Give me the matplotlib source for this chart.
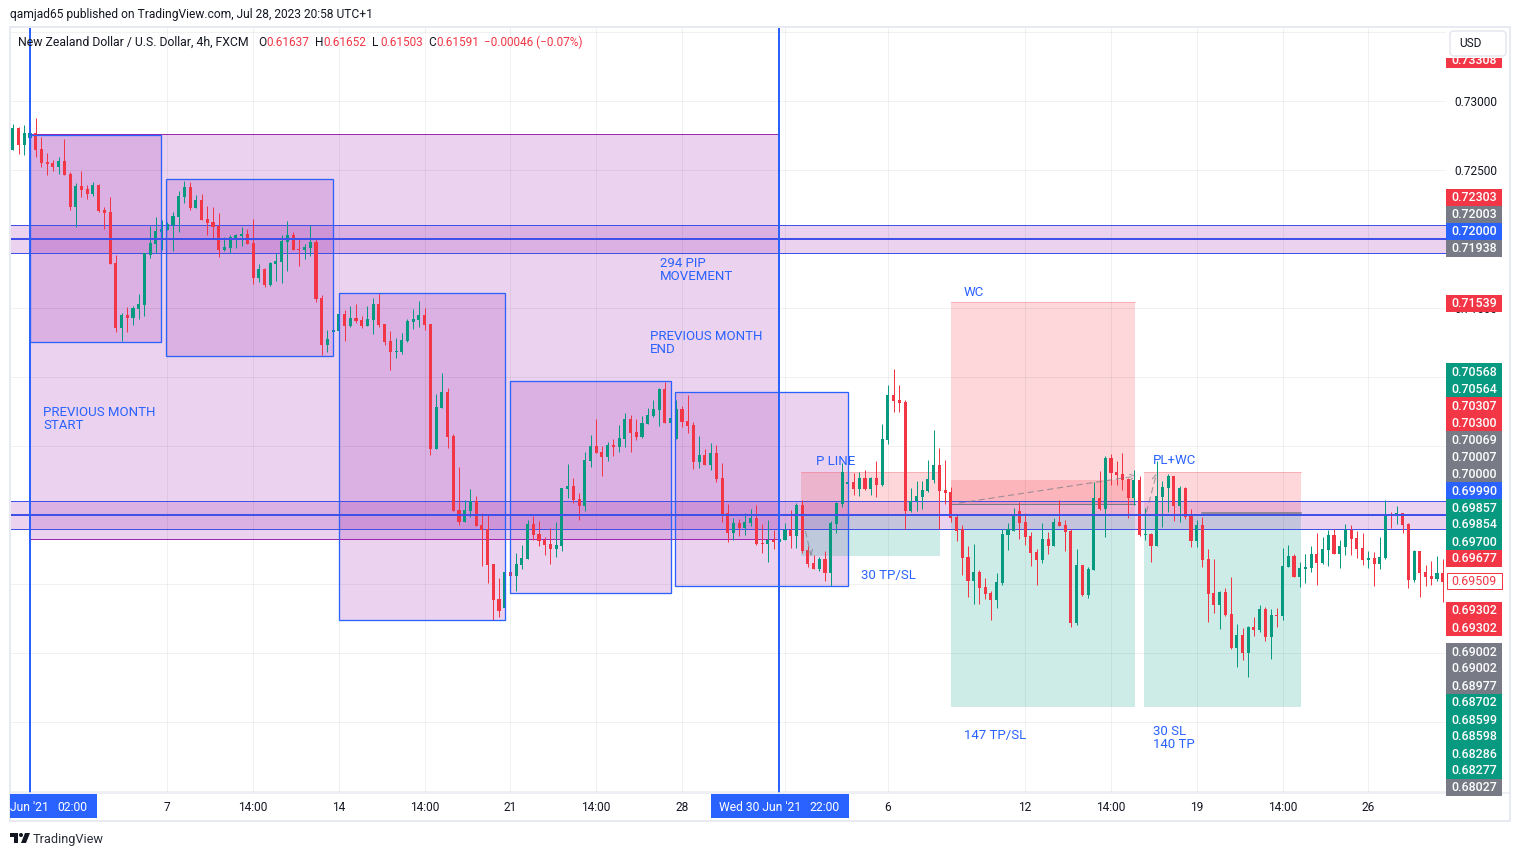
import numpy as np
import matplotlib
matplotlib.use("Agg")
import matplotlib.pyplot as plt
from matplotlib.patches import Rectangle, FancyBboxPatch, Polygon, Circle

# NZDUSD 4h candles, prices in 1/100000
opens = np.array([
    72645, 72804, 72681, 72729, 72768, 72652, 72558, 72551, 72522, 72565,
    72471, 72232, 72384, 72362, 72326, 72391, 72210, 72196, 71826, 71355,
    71449, 71428, 71493, 71522, 71884, 71964, 72051, 72065, 72101, 72159,
    72304, 72377, 72225, 72283, 72145, 72123, 72094, 71920, 71935, 72000,
    72022, 72036, 71971, 71717, 71783, 71667, 71819, 71833, 71978, 72029,
    71928, 71920, 71935, 71978, 71572, 71232, 71326, 71334, 71457, 71370,
    71428, 71413, 71370, 71413, 71529, 71384, 71261, 71181, 71181, 71261,
    71399, 71413, 71449, 71384, 70479, 70776, 70892, 70573, 70037, 69950,
    70029, 70102, 69928, 69899, 69645, 69392, 69327, 69587, 69558, 69638,
    69682, 69935, 69863, 69819, 69790, 69754, 69776, 70189, 70211, 70116,
    70066, 70392, 70500, 70457, 70421, 70508, 70493, 70551, 70696, 70602,
    70566, 70660, 70718, 70761, 70913, 70667, 70551, 70768, 70681, 70652,
    70384, 70435, 70362, 70449, 70268, 70015, 69870, 69942, 69906, 69942,
    69978, 69797, 69790, 69819, 69804, 69819, 69891, 69848, 70072, 69746,
    69652, 69609, 69681, 69580, 69935, 70080, 70225, 70239, 70188, 70268,
    70188, 70268, 70217, 70543, 70869, 70833, 70819, 70029, 70101, 70130,
    70174, 70254, 70362, 70181, 70167, 69986, 69899, 69696, 69522, 69588,
    69479, 69436, 69385, 69508, 69856, 69885, 70030, 69950, 69848, 69733,
    69675, 69827, 69776, 69950, 69928, 69885, 69218, 69638, 69421, 69602,
    70124, 70044, 70414, 70312, 70298, 70261, 70124, 70254, 69856, 69863,
    69776, 70131, 70196, 70283, 70066, 70196, 70008, 69812, 69928, 69681,
    69435, 69348, 69442, 69283, 69036, 69131, 69000, 69189, 69167, 69319,
    69116, 69275, 69268, 69623, 69703, 69551, 69609, 69616, 69717, 69652,
    69746, 69855, 69717, 69768, 69891, 69833, 69761, 69674, 69688, 69645,
    69688, 70007, 70000, 70014, 69935, 69529, 69739, 69587, 69558, 69536,
    69580,
]) / 1e5
highs = np.array([
    72833, 72811, 72826, 72874, 72877, 72739, 72623, 72572, 72594, 72724,
    72485, 72406, 72493, 72391, 72413, 72398, 72232, 72304, 71884, 71464,
    71507, 71515, 71601, 71896, 72094, 72159, 72138, 72126, 72196, 72348,
    72420, 72413, 72319, 72326, 72239, 72232, 72188, 72014, 72029, 72036,
    72087, 72072, 72145, 71819, 71790, 71833, 71899, 72029, 72130, 72051,
    72000, 71964, 72101, 72000, 71594, 71341, 71413, 71457, 71486, 71515,
    71529, 71442, 71515, 71573, 71606, 71384, 71334, 71283, 71319, 71420,
    71493, 71551, 71500, 71384, 70877, 71029, 70921, 70587, 70348, 70109,
    70189, 70138, 70015, 70000, 69645, 69544, 69587, 69740, 69725, 69783,
    69964, 69993, 69957, 69841, 69906, 69950, 70196, 70370, 70268, 70160,
    70457, 70580, 70696, 70500, 70529, 70551, 70652, 70739, 70725, 70696,
    70718, 70776, 70834, 70921, 70964, 70768, 70833, 70790, 70869, 70674,
    70572, 70478, 70522, 70507, 70377, 70080, 69978, 69971, 70015, 70043,
    70072, 69935, 69964, 69891, 69978, 69942, 70036, 70087, 70109, 69775,
    69710, 69696, 69739, 69957, 70094, 70377, 70420, 70304, 70312, 70326,
    70275, 70391, 70659, 70942, 71058, 70942, 70833, 70196, 70246, 70246,
    70398, 70616, 70485, 70398, 70203, 70008, 69928, 69776, 69791, 69602,
    69544, 69450, 69580, 69899, 69943, 70051, 70095, 70015, 69877, 69754,
    69943, 69877, 69979, 70109, 69964, 69899, 69754, 69638, 69624, 70240,
    70319, 70428, 70443, 70392, 70450, 70269, 70327, 70283, 70051, 69870,
    70392, 70247, 70298, 70283, 70211, 70203, 70044, 69964, 69985, 69754,
    69681, 69449, 69471, 69551, 69210, 69181, 69196, 69261, 69348, 69333,
    69319, 69326, 69761, 69783, 69717, 69659, 69717, 69775, 69870, 69841,
    69891, 69899, 69819, 69935, 69927, 69884, 69870, 69739, 69732, 69841,
    70109, 70022, 70065, 70014, 69942, 69746, 69739, 69638, 69667, 69703,
    69681,
]) / 1e5
lows = np.array([
    72645, 72616, 72609, 72722, 72594, 72522, 72464, 72493, 72471, 72464,
    72210, 72087, 72304, 72290, 72311, 72196, 72072, 71819, 71326, 71261,
    71326, 71377, 71420, 71442, 71862, 71899, 71920, 72065, 71913, 72051,
    72261, 72210, 72225, 72138, 72029, 72007, 71870, 71913, 71899, 71935,
    71949, 71964, 71674, 71688, 71652, 71659, 71696, 71681, 71768, 71920,
    71804, 71855, 71877, 71544, 71160, 71181, 71232, 71334, 71261, 71362,
    71391, 71355, 71370, 71312, 71362, 71232, 71051, 71138, 71167, 71254,
    71348, 71362, 71341, 70435, 70479, 70776, 70486, 70029, 69928, 69950,
    69986, 69921, 69631, 69508, 69240, 69261, 69327, 69443, 69450, 69609,
    69682, 69819, 69776, 69711, 69645, 69696, 69740, 70124, 70087, 69964,
    70029, 70348, 70450, 70283, 70392, 70428, 70457, 70493, 70457, 70544,
    70558, 70660, 70710, 70645, 70667, 70667, 70551, 70638, 70594, 70333,
    70341, 70362, 70326, 70239, 69949, 69804, 69819, 69848, 69855, 69920,
    69783, 69725, 69659, 69754, 69746, 69819, 69761, 69761, 69725, 69623,
    69609, 69594, 69522, 69486, 69870, 70058, 70145, 70145, 70138, 70181,
    70145, 70130, 70210, 70514, 70746, 70746, 69899, 70022, 70029, 70043,
    70167, 70232, 69899, 70080, 69949, 69812, 69566, 69407, 69356, 69356,
    69392, 69240, 69327, 69493, 69747, 69885, 69827, 69783, 69631, 69493,
    69653, 69718, 69776, 69921, 69740, 69189, 69204, 69414, 69399, 69602,
    70037, 69841, 70218, 70218, 70182, 69979, 70073, 69849, 69820, 69660,
    69776, 69914, 70022, 69957, 69950, 69972, 69769, 69769, 69623, 69225,
    69290, 69174, 69268, 69029, 68899, 68949, 68826, 69123, 69152, 69087,
    68957, 69189, 69239, 69623, 69551, 69478, 69507, 69587, 69493, 69645,
    69630, 69717, 69616, 69710, 69710, 69688, 69638, 69616, 69486, 69609,
    69681, 69906, 69935, 69870, 69471, 69515, 69406, 69486, 69493, 69522,
    69370,
]) / 1e5
closes = np.array([
    72804, 72681, 72768, 72768, 72645, 72551, 72543, 72522, 72565, 72464,
    72232, 72384, 72355, 72326, 72391, 72203, 72188, 71819, 71355, 71449,
    71428, 71500, 71529, 71896, 71971, 72058, 72072, 72109, 72167, 72311,
    72377, 72225, 72283, 72138, 72116, 72087, 71920, 71942, 72014, 72029,
    72036, 71964, 71717, 71783, 71667, 71826, 71841, 71985, 72029, 71920,
    71920, 71942, 71978, 71565, 71232, 71275, 71341, 71457, 71370, 71428,
    71406, 71370, 71420, 71529, 71377, 71254, 71181, 71189, 71268, 71406,
    71420, 71449, 71377, 70479, 70783, 70892, 70566, 70029, 69950, 70037,
    70102, 69921, 69892, 69638, 69385, 69305, 69587, 69558, 69645, 69689,
    69935, 69856, 69812, 69783, 69754, 69783, 70196, 70211, 70109, 70066,
    70399, 70500, 70450, 70421, 70508, 70493, 70558, 70696, 70595, 70566,
    70667, 70725, 70768, 70913, 70667, 70703, 70768, 70674, 70645, 70384,
    70435, 70362, 70449, 70261, 70007, 69870, 69942, 69906, 69949, 69978,
    69790, 69790, 69819, 69804, 69826, 69891, 69848, 70072, 69739, 69645,
    69609, 69681, 69580, 69942, 70087, 70312, 70239, 70188, 70268, 70188,
    70268, 70217, 70551, 70869, 70826, 70811, 70029, 70101, 70138, 70181,
    70261, 70362, 70174, 70159, 69978, 69885, 69689, 69522, 69588, 69472,
    69428, 69385, 69515, 69863, 69899, 70008, 69943, 69841, 69725, 69675,
    69827, 69776, 69950, 69921, 69877, 69218, 69638, 69421, 69609, 70124,
    70044, 70414, 70305, 70290, 70254, 70124, 70254, 69856, 69863, 69776,
    70138, 70203, 70283, 70066, 70196, 69986, 69812, 69928, 69674, 69428,
    69348, 69442, 69275, 69036, 69131, 69000, 69189, 69167, 69319, 69116,
    69275, 69268, 69630, 69703, 69551, 69616, 69623, 69717, 69652, 69754,
    69855, 69717, 69775, 69891, 69826, 69754, 69674, 69688, 69645, 69696,
    70007, 69993, 70014, 69927, 69529, 69739, 69580, 69551, 69536, 69580,
    69515,
]) / 1e5

# time axis
tick_bars = [27, 42, 57, 72, 87, 102, 117, 135, 153, 177, 192, 207, 222, 237]
tick_labels = ["7", "14:00", "14", "14:00", "21", "14:00", "28", "", "6", "12", "14:00", "19", "14:00", "26"]
price_ticks = [0.735, 0.73, 0.725, 0.72, 0.715, 0.71, 0.705, 0.70, 0.695, 0.69, 0.685, 0.68]
# the other ticks sit under the stacked price labels
shown_ticks = [0.73, 0.725, 0.715]

# drawings, in bar numbers and prices
month_box = (3, 133.9, 0.72761, 0.69826)
range_starts = [3, 26.85, 57, 86.85, 115.85]
range_ends = [25.95, 56, 86, 115, 146]
range_tops = [0.72754, 0.72435, 0.71609, 0.70971, 0.70891]
range_bottoms = [0.71254, 0.71152, 0.69239, 0.69435, 0.69486]
band_tops = [0.72101, 0.70101]
band_lines = [0.72000, 0.69999]
band_bottoms = [0.71899, 0.69898]
cursor_bars = [3, 133.9]
pos_starts = [137.85, 164, 197.85]
pos_ends = [162.15, 196.15, 225.15]
pos_tops = [0.70312, 0.71544, 0.70312]
pos_entries = [0.69999, 0.70007, 0.70007]
pos_bottoms = [0.69703, 0.68609, 0.68609]

# right hand price labels, top to bottom
scale_texts = ["0.73308", "0.72303", "0.72003", "0.72000", "0.71938", "0.71539", "0.70568", "0.70564",
               "0.70307", "0.70300", "0.70069", "0.70007", "0.70000", "0.69990", "0.69857", "0.69854",
               "0.69700", "0.69677", "0.69302", "0.69302", "0.69002", "0.69002", "0.68977", "0.68702",
               "0.68599", "0.68598", "0.68286", "0.68277", "0.68027"]
scale_kinds = ["r", "r", "g", "b", "g", "r", "t", "t", "r", "r", "g", "g", "g", "b", "t", "t",
               "t", "r", "r", "r", "g", "g", "g", "t", "t", "t", "t", "t", "g"]

RED = "#f23645"
TEAL = "#089981"
BLUE = "#2962ff"
GREY = "#787b86"
PURPLE = "#9c27b0"
LINE_BLUE = "#3f51e8"
TEXT = "#131722"
FONT = "Roboto"
PX = 0.72  # one pixel in points at dpi 100

plt.rcParams["font.family"] = FONT

fig = plt.figure(figsize=(15.2, 8.56), dpi=100, facecolor="white")
W, H = 1520, 856
L, R, T, B = 10, 1446, 27, 793
ax = fig.add_axes([L / W, 1 - B / H, (R - L) / W, (B - T) / H])
ax.set_xlim(-0.5, 250.58)
ax.set_ylim(0.67986, 0.73536)
for s in ax.spines.values():
    s.set_visible(False)
ax.yaxis.tick_right()
ax.set_xticks(tick_bars)
ax.set_xticklabels(tick_labels, fontsize=8.6, color=TEXT)
ax.set_yticks(price_ticks)
ax.set_yticklabels([f"{p:.5f}" if p in shown_ticks else "" for p in price_ticks], fontsize=8.6, color=TEXT)
ax.tick_params(axis="x", length=0, pad=5.8)
ax.tick_params(axis="y", length=0, pad=6)
ax.set_axisbelow("line")
ax.grid(True, color="#000000", alpha=0.055, linewidth=1 * PX)

# big month box
ax.add_patch(Rectangle((month_box[0], month_box[3]), month_box[1] - month_box[0], month_box[2] - month_box[3],
                       facecolor=PURPLE, alpha=0.2, edgecolor="none", zorder=1))
ax.add_patch(Rectangle((month_box[0], month_box[3]), month_box[1] - month_box[0], month_box[2] - month_box[3],
                       facecolor="none", edgecolor=PURPLE, linewidth=1 * PX, zorder=1.2))

# weekly ranges
for x0, x1, top, bot in zip(range_starts, range_ends, range_tops, range_bottoms):
    ax.add_patch(Rectangle((x0, bot), x1 - x0, top - bot, facecolor=PURPLE, alpha=0.2, edgecolor="none", zorder=1))
    ax.add_patch(Rectangle((x0, bot), x1 - x0, top - bot, facecolor="none", edgecolor=BLUE, linewidth=1.3 * PX, zorder=3.5))

# positions
for x0, x1, top, entry, bot in zip(pos_starts, pos_ends, pos_tops, pos_entries, pos_bottoms):
    ax.add_patch(Rectangle((x0, entry), x1 - x0, top - entry, facecolor="#f7525f", alpha=0.23, edgecolor="none", zorder=1))
    ax.add_patch(Rectangle((x0, bot), x1 - x0, entry - bot, facecolor="#22ab94", alpha=0.22, edgecolor="none", zorder=1))
    ax.plot([x0, x1], [top, top], color="#f7525f", alpha=0.3, linewidth=1 * PX, zorder=1.1)
# second trade sitting inside WC
ax.add_patch(Rectangle((164, 0.70080), 32.15, 0.70254 - 0.70080, facecolor="#f7525f", alpha=0.25, edgecolor="none", zorder=1))
ax.plot([164, 196.15], [0.70080, 0.70080], color=GREY, linewidth=1 * PX, zorder=1.5)
ax.plot([208, 225.15], [0.70015, 0.70015], color=GREY, linewidth=1.5 * PX, zorder=1.5)

# bands
ax.fill_between([-1, 252], band_bottoms[0], band_tops[0], color=PURPLE, alpha=0.2, linewidth=0, zorder=1)
ax.fill_between([-1, 252], band_bottoms[1], band_tops[1], color=PURPLE, alpha=0.2, linewidth=0, zorder=1)
for top, mid, bot in zip(band_tops, band_lines, band_bottoms):
    ax.axhline(top, color=LINE_BLUE, linewidth=1 * PX, zorder=1.5)
    ax.axhline(bot, color=LINE_BLUE, linewidth=1 * PX, zorder=1.5)
    ax.axhline(mid, color=LINE_BLUE, linewidth=2 * PX, zorder=3.5)

# candles
bars = np.arange(len(opens))
up = closes >= opens
colors = np.where(up, TEAL, RED)
ax.vlines(bars, lows, highs, colors=colors, linewidth=1 * PX, zorder=3)
ax.bar(bars, np.maximum(np.abs(closes - opens), 0.00003), bottom=np.minimum(opens, closes), width=0.54,
       color=colors, linewidth=0, zorder=3)

# dashed trade paths
paths = [((165.5, 0.70087), (196.5, 0.70283)), ((198.2, 0.70022), (200, 0.70304)), ((138.6, 0.69880), (139.6, 0.69700))]
for start, end in paths:
    ax.annotate("", xy=end, xytext=start, zorder=3.2,
                arrowprops=dict(arrowstyle="->", linestyle=(0, (5, 4)), color=GREY, alpha=0.7, linewidth=1.1 * PX,
                                shrinkA=0, shrinkB=0))

for b in cursor_bars:
    ax.axvline(b, color=BLUE, linewidth=2 * PX, zorder=4)

# page furniture, drawn in pixel coordinates on top
over = fig.add_axes([0, 0, 1, 1], zorder=5)
over.set_xlim(0, W)
over.set_ylim(H, 0)
over.axis("off")
over.patch.set_alpha(0)

BORDER = "#e8eaf2"
over.plot([L, 1510, 1510, L, L], [T, T, 821, 821, T], color=BORDER, linewidth=2 * PX)
over.plot([L, 1510], [793, 793], color=BORDER, linewidth=1.5 * PX)


def label(x, y, s, color=TEXT, size=8.6, ha="left", **kw):
    return over.text(x, y, s, color=color, fontsize=size, ha=ha, va="center", **kw)


label(10, 14, "qamjad65 published on TradingView.com, Jul 28, 2023 20:58 UTC+1", size=8.67)
label(18, 42, "New Zealand Dollar / U.S. Dollar, 4h, FXCM", size=8.87)
for x, s in zip([258, 315, 372, 428], "OHLC"):
    label(x, 42, s)
for x, s in zip([266, 323, 380, 436, 484], ["0.61637", "0.61652", "0.61503", "0.61591", "−0.00046 (−0.07%)"]):
    label(x, 42, s, color=RED, size=8.5)

# drawing labels
notes = [(660, 270, "294 PIP\nMOVEMENT"), (650, 343, "PREVIOUS MONTH\nEND"), (43, 419, "PREVIOUS MONTH\nSTART"),
         (964, 292, "WC"), (816, 461, "P LINE"), (861, 575, "30 TP/SL"), (964, 736, "147 TP/SL"),
         (1153, 738, "30 SL\n140 TP"), (1153, 460, "PL+WC")]
for x, y, s in notes:
    label(x, y, s, color=BLUE, size=9.5, linespacing=1.0)

# price scale labels
kind_colors = {"r": RED, "t": TEAL, "g": GREY, "b": BLUE}
scale_rows = [59.5, 197, 214, 231, 248, 303, 371.5, 388.5, 405.5, 422.5, 439.5, 456.5, 473.5, 490.5, 507.5, 524.5,
              541.5, 558.5, 610.5, 627.5, 651.5, 668.5, 685.5, 702.5, 719.5, 736.5, 753.5, 770.5, 787]
for s, k, y in zip(scale_texts, scale_kinds, scale_rows):
    over.add_patch(Rectangle((1446, y - 8.5), 56, 17, facecolor=kind_colors[k], edgecolor="none", zorder=3))
    over.text(1474, y + 0.5, s, color="white", fontsize=8.9, fontweight="medium", ha="center", va="center", zorder=4)
over.add_patch(Rectangle((1446.5, 573), 55, 16, facecolor="white", edgecolor=RED, linewidth=1 * PX, zorder=3))
over.text(1474, 581.5, "0.69509", color=RED, fontsize=8.9, ha="center", va="center", zorder=4)

# currency button, it hides the top of the first price label
over.add_patch(Rectangle((1446, 28), 62, 30, facecolor="white", edgecolor="none", zorder=5))
over.add_patch(FancyBboxPatch((1450, 31), 56, 25, boxstyle="round,pad=0,rounding_size=4", facecolor="white",
                              edgecolor="#e0e3eb", linewidth=1.3 * PX, zorder=6))
over.text(1459, 43, "USD", color=TEXT, fontsize=8.6, va="center", zorder=7)

# crosshair labels on the time axis
over.add_patch(Rectangle((10, 794), 87, 24, facecolor=BLUE, edgecolor="none", zorder=3))
over.add_patch(Rectangle((711, 794), 138, 24, facecolor=BLUE, edgecolor="none", zorder=3))
over.text(10, 807.5, "Jun '21", color="white", fontsize=8.7, va="center", zorder=4)
over.text(57, 807.5, "02:00", color="white", fontsize=8.7, va="center", zorder=4)
over.text(719, 807.5, "Wed 30 Jun '21", color="white", fontsize=8.7, va="center", zorder=4)
over.text(809, 807.5, "22:00", color="white", fontsize=8.7, va="center", zorder=4)

# TradingView mark
over.add_patch(Polygon([(10, 833), (18, 833), (18, 843), (14, 843), (14, 837), (10, 837)], facecolor=TEXT, edgecolor="none"))
over.add_patch(Circle((21, 835), 2, facecolor=TEXT, edgecolor="none"))
over.add_patch(Polygon([(25, 833), (30, 833), (26, 843), (21, 843)], facecolor=TEXT, edgecolor="none"))
label(33, 839, "TradingView", size=9.2, color="#2a2e39")

fig.savefig("out.png", dpi=100)
